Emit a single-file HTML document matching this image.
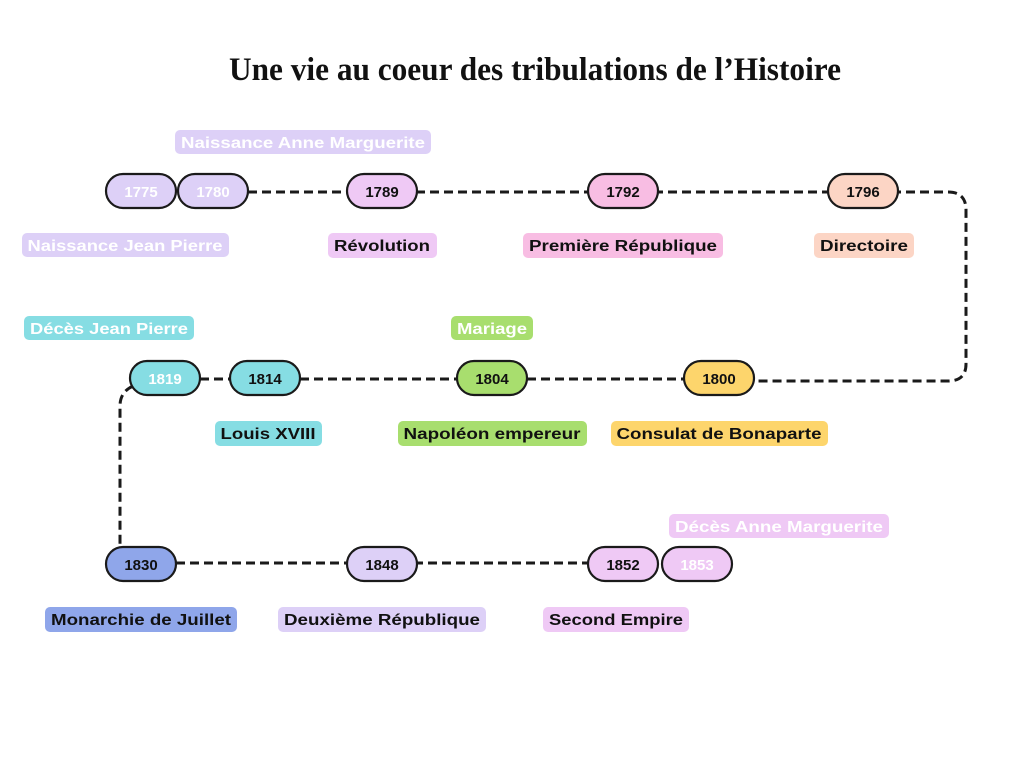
<!DOCTYPE html>
<html><head><meta charset="utf-8"><style>
html,body{margin:0;padding:0;background:#fff;width:1024px;height:768px;overflow:hidden}
svg text{font-family:"Liberation Sans","DejaVu Sans",sans-serif;font-weight:bold}
</style></head><body>
<svg width="1024" height="768" viewBox="0 0 1024 768" xmlns="http://www.w3.org/2000/svg">
<text x="535" y="80" text-anchor="middle" textLength="612" lengthAdjust="spacingAndGlyphs" style="font-family:'Liberation Serif',serif;font-weight:bold;font-size:33px" fill="#111">Une vie au coeur des tribulations de l’Histoire</text>
<g fill="none" stroke="#1a1a1a" stroke-width="3" stroke-dasharray="9,5">
<path d="M248 192 H948 Q966 192 966 210 V364 Q966 381 948 381 H754"/>
<path d="M200 379 H230 M300 379 H457 M527 379 H684"/>
<path d="M133 386 Q120 392 120 406 V547"/>
<path d="M176 563 H588"/>
</g>
<g stroke="#1a1a1a" stroke-width="2.2">
<rect x="106" y="174" width="70" height="34" rx="17" fill="#ddd0f7"/>
<rect x="178" y="174" width="70" height="34" rx="17" fill="#ddd0f7"/>
<rect x="347" y="174" width="70" height="34" rx="17" fill="#efc9f5"/>
<rect x="588" y="174" width="70" height="34" rx="17" fill="#f8bde3"/>
<rect x="828" y="174" width="70" height="34" rx="17" fill="#fcd5c5"/>
<rect x="130" y="361" width="70" height="34" rx="17" fill="#86dde3"/>
<rect x="230" y="361" width="70" height="34" rx="17" fill="#86dde3"/>
<rect x="457" y="361" width="70" height="34" rx="17" fill="#a8de6e"/>
<rect x="684" y="361" width="70" height="34" rx="17" fill="#fdd56c"/>
<rect x="106" y="547" width="70" height="34" rx="17" fill="#8fa6ea"/>
<rect x="347" y="547" width="70" height="34" rx="17" fill="#ddd0f7"/>
<rect x="588" y="547" width="70" height="34" rx="17" fill="#efc9f5"/>
<rect x="662" y="547" width="70" height="34" rx="17" fill="#efc9f5"/>
</g>
<g font-size="15" text-anchor="middle">
<text x="141" y="197" fill="#fff">1775</text>
<text x="213" y="197" fill="#fff">1780</text>
<text x="382" y="197" fill="#111">1789</text>
<text x="623" y="197" fill="#111">1792</text>
<text x="863" y="197" fill="#111">1796</text>
<text x="165" y="384" fill="#fff">1819</text>
<text x="265" y="384" fill="#111">1814</text>
<text x="492" y="384" fill="#111">1804</text>
<text x="719" y="384" fill="#111">1800</text>
<text x="141" y="570" fill="#111">1830</text>
<text x="382" y="570" fill="#111">1848</text>
<text x="623" y="570" fill="#111">1852</text>
<text x="697" y="570" fill="#fff">1853</text>
</g>
<g>
<rect x="175" y="130" width="256" height="24" rx="5" fill="#ddd0f7"/>
<rect x="22" y="233" width="207" height="24" rx="5" fill="#ddd0f7"/>
<rect x="328" y="233" width="109" height="25" rx="5" fill="#efc9f5"/>
<rect x="523" y="233" width="200" height="25" rx="5" fill="#f8bde3"/>
<rect x="814" y="233" width="100" height="25" rx="5" fill="#fcd5c5"/>
<rect x="24" y="316" width="170" height="24" rx="5" fill="#86dde3"/>
<rect x="451" y="316" width="82" height="24" rx="5" fill="#a8de6e"/>
<rect x="215" y="421" width="107" height="25" rx="5" fill="#86dde3"/>
<rect x="398" y="421" width="189" height="25" rx="5" fill="#a8de6e"/>
<rect x="611" y="421" width="217" height="25" rx="5" fill="#fdd56c"/>
<rect x="669" y="514" width="220" height="24" rx="5" fill="#efc9f5"/>
<rect x="45" y="607" width="192" height="25" rx="5" fill="#8fa6ea"/>
<rect x="278" y="607" width="208" height="25" rx="5" fill="#ddd0f7"/>
<rect x="543" y="607" width="146" height="25" rx="5" fill="#efc9f5"/>
</g>
<g font-size="16" text-anchor="middle">
<text x="303" y="148" fill="#fff" textLength="244" lengthAdjust="spacingAndGlyphs">Naissance Anne Marguerite</text>
<text x="125" y="251" fill="#fff" textLength="195" lengthAdjust="spacingAndGlyphs">Naissance Jean Pierre</text>
<text x="382" y="251" fill="#111" textLength="96" lengthAdjust="spacingAndGlyphs">Révolution</text>
<text x="623" y="251" fill="#111" textLength="188" lengthAdjust="spacingAndGlyphs">Première République</text>
<text x="864" y="251" fill="#111" textLength="88" lengthAdjust="spacingAndGlyphs">Directoire</text>
<text x="109" y="334" fill="#fff" textLength="158" lengthAdjust="spacingAndGlyphs">Décès Jean Pierre</text>
<text x="492" y="334" fill="#fff" textLength="70" lengthAdjust="spacingAndGlyphs">Mariage</text>
<text x="268" y="439" fill="#111" textLength="95" lengthAdjust="spacingAndGlyphs">Louis XVIII</text>
<text x="492" y="439" fill="#111" textLength="177" lengthAdjust="spacingAndGlyphs">Napoléon empereur</text>
<text x="719" y="439" fill="#111" textLength="205" lengthAdjust="spacingAndGlyphs">Consulat de Bonaparte</text>
<text x="779" y="532" fill="#fff" textLength="208" lengthAdjust="spacingAndGlyphs">Décès Anne Marguerite</text>
<text x="141" y="625" fill="#111" textLength="180" lengthAdjust="spacingAndGlyphs">Monarchie de Juillet</text>
<text x="382" y="625" fill="#111" textLength="196" lengthAdjust="spacingAndGlyphs">Deuxième République</text>
<text x="616" y="625" fill="#111" textLength="134" lengthAdjust="spacingAndGlyphs">Second Empire</text>
</g>
</svg>
</body></html>
